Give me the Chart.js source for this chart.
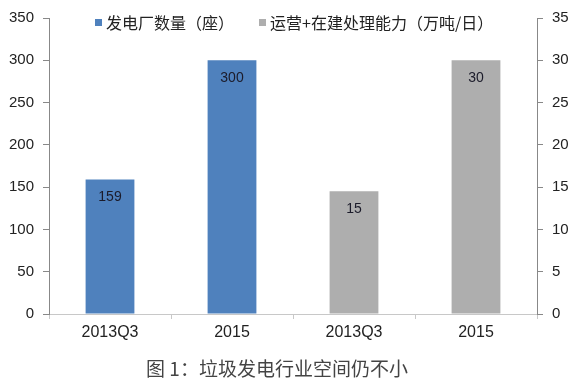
<!DOCTYPE html>
<html><head><meta charset="utf-8">
<script src="https://cdn.jsdelivr.net/npm/chart.js@4/dist/chart.umd.min.js"></script>
<style>
html,body{margin:0;padding:0;background:#fff;}
#wrap{width:572px;height:381px;position:relative}
#cap{position:absolute;left:0;top:356px;width:554px;text-align:center;font:19px "Noto Sans CJK SC",sans-serif;color:#444;line-height:24px;white-space:nowrap}
</style>
</head><body><div id="wrap"><canvas id="c" width="572" height="381"></canvas><div id="cap"></div></div>
<script>
const categories = ['2013Q3', '2015', '2013Q3', '2015'];
const seriesNames = ['发电厂数量（座）', '运营+在建处理能力（万吨/日）'];
const plantCounts = [159, 300, null, null];
const capacity = [null, null, 14.5, 30];
const leftTicks = [0, 50, 100, 150, 200, 250, 300, 350];
const rightTicks = [0, 5, 10, 15, 20, 25, 30, 35];
const caption = '图 1：垃圾发电行业空间仍不小';

document.getElementById('cap').textContent = caption;
Chart.defaults.font.family = '"Liberation Sans", Arial, sans-serif';

const valueLabels = {
  id: 'valueLabels',
  afterDatasetsDraw(chart) {
    const ctx = chart.ctx;
    ctx.save();
    ctx.font = '14px "Liberation Sans", Arial, sans-serif';
    ctx.fillStyle = '#1b1b2a';
    ctx.textAlign = 'center';
    ctx.textBaseline = 'middle';
    chart.data.datasets.forEach((ds, di) => {
      const meta = chart.getDatasetMeta(di);
      meta.data.forEach((bar, i) => {
        const v = ds.data[i];
        if (v == null) return;
        ctx.fillText(String(Math.round(v)), bar.x, bar.y + 18);
      });
    });
    ctx.restore();
  }
};

const topLegend = {
  id: 'topLegend',
  afterDraw(chart) {
    const ctx = chart.ctx;
    ctx.save();
    ctx.font = '16px "Noto Sans CJK SC"';
    ctx.textBaseline = 'middle';
    let x = 95;
    const y = 23;
    chart.data.datasets.forEach(ds => {
      ctx.fillStyle = ds.backgroundColor;
      ctx.fillRect(x, y - 4, 7, 7);
      ctx.fillStyle = '#222';
      ctx.fillText(ds.label, x + 11, y);
      x += 11 + ctx.measureText(ds.label).width + 25;
    });
    ctx.restore();
  }
};

new Chart(document.getElementById('c'), {
  type: 'bar',
  data: {
    labels: categories,
    datasets: [
      { label: seriesNames[0], data: plantCounts, yAxisID: 'y', backgroundColor: '#4F81BD',
        barPercentage: 0.4, categoryPercentage: 1.0 },
      { label: seriesNames[1], data: capacity, yAxisID: 'y1', backgroundColor: '#AEAEAE',
        barPercentage: 0.4, categoryPercentage: 1.0 }
    ]
  },
  options: {
    responsive: false,
    animation: false,
    layout: { padding: { top: 13, left: 0, right: 0, bottom: 37 } },
    plugins: {
      legend: { display: false },
      tooltip: { enabled: false },
      title: { display: false }
    },
    scales: {
      x: {
        stacked: true,
        offset: true,
        grid: { display: true, drawOnChartArea: false, tickLength: 5, color: '#c8c8c8', offset: true },
        border: { color: '#c8c8c8' },
        ticks: { font: { size: 16 }, color: '#222', padding: 4 },
        afterFit: s => { s.height = 30; }
      },
      y: {
        position: 'left', min: 0, max: 350,
        afterBuildTicks: s => { s.ticks = leftTicks.map(v => ({ value: v })); },
        grid: { drawOnChartArea: false, tickLength: 6, color: '#888' },
        border: { color: '#888' },
        ticks: { font: { size: 15 }, color: '#222', padding: 9 },
        afterFit: s => { s.width = 49; }
      },
      y1: {
        position: 'right', min: 0, max: 35,
        afterBuildTicks: s => { s.ticks = rightTicks.map(v => ({ value: v })); },
        grid: { drawOnChartArea: false, tickLength: 6, color: '#888' },
        border: { color: '#888' },
        ticks: { font: { size: 15 }, color: '#222', padding: 9 },
        afterFit: s => { s.width = 35; }
      }
    }
  },
  plugins: [valueLabels, topLegend]
});
</script>
</body></html>
